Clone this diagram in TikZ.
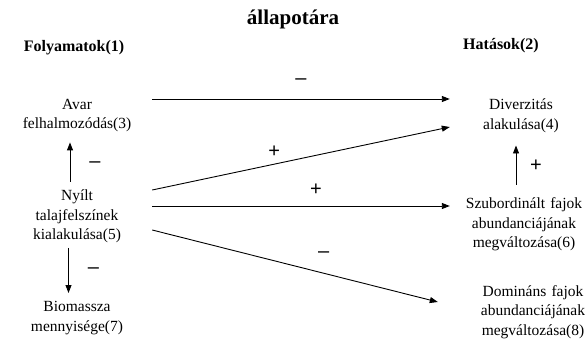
\documentclass[tikz,border=0pt]{standalone}
\usepackage{fontspec}
\setmainfont{Liberation Serif}
\newfontfamily\signfont{Liberation Sans}
\usetikzlibrary{arrows.meta}
\tikzset{box/.style={align=center,inner sep=0pt,anchor=north,font=\fontsize{15.5}{19.5}\selectfont},
  head/.style={anchor=base,inner sep=0pt,font=\bfseries\fontsize{16}{19}\selectfont},
  arr/.style={-{Triangle[length=8pt,width=6pt]},line width=.9pt},
  sign/.style={inner sep=0pt,font=\signfont\fontsize{20}{20}\selectfont}}
\begin{document}
\begin{tikzpicture}[x=1pt,y=1pt]
\useasboundingbox (0,0) rectangle (588,340);
\node[head,font=\bfseries\fontsize{21}{24}\selectfont] (T) at (293,315) {állapotára};
\node[head] (H1) at (74,288) {Folyamatok(1)};\node[head] (H2) at (501,290) {Hatások(2)};
\node[box,text width=150pt] (n3) at (77,241) {Avar\\felhalmozódás(3)};
\node[box,text width=150pt] (n5) at (77,150) {Nyílt\\talajfelszínek\\kialakulása(5)};
\node[box,text width=150pt] (n7) at (77,38.5) {Biomassza\\mennyisége(7)};
\node[box,text width=142pt] (n4) at (521,241) {Diverzitás\\alakulása(4)};
\node[box,text width=148pt] (n6) at (524,142.5) {Szubordinált fajok\\abundanciájának\\megváltozása(6)};
\node[box,text width=150pt] (n8) at (533,55) {Domináns fajok\\abundanciájának\\megváltozása(8)};
\draw[arr] (n3.north east) -- node[sign,yshift=17pt]{–} (n4.north west);
\draw[arr] (n5.north east) -- node[sign,pos=.41,yshift=12pt]{+} ([yshift=-28pt]n4.north west);
\draw[arr] ([yshift=-16pt]n5.north east) -- node[sign,pos=.55,yshift=16pt]{+} ([yshift=-8.5pt]n6.north west);
\draw[arr] ([yshift=-40pt]n5.north east) -- node[sign,pos=.6,yshift=19pt]{–} ([xshift=-20pt,yshift=-17pt]n8.north west);
\draw[arr] ([xshift=-7pt,yshift=8.3pt]n5.north) -- node[sign,xshift=25pt,yshift=-3pt]{–} ([xshift=-7pt,yshift=-10pt]n3.south);
\draw[arr] ([xshift=-8.5pt,yshift=-4.5pt]n5.south) -- node[sign,xshift=25pt]{–} ([xshift=-8.5pt,yshift=8.5pt]n7.north);
\draw[arr] ([xshift=-8pt,yshift=12.5pt]n6.north) -- node[sign,xshift=20pt]{+} ([xshift=-5pt,yshift=-12.5pt]n4.south);
\end{tikzpicture}
\end{document}
